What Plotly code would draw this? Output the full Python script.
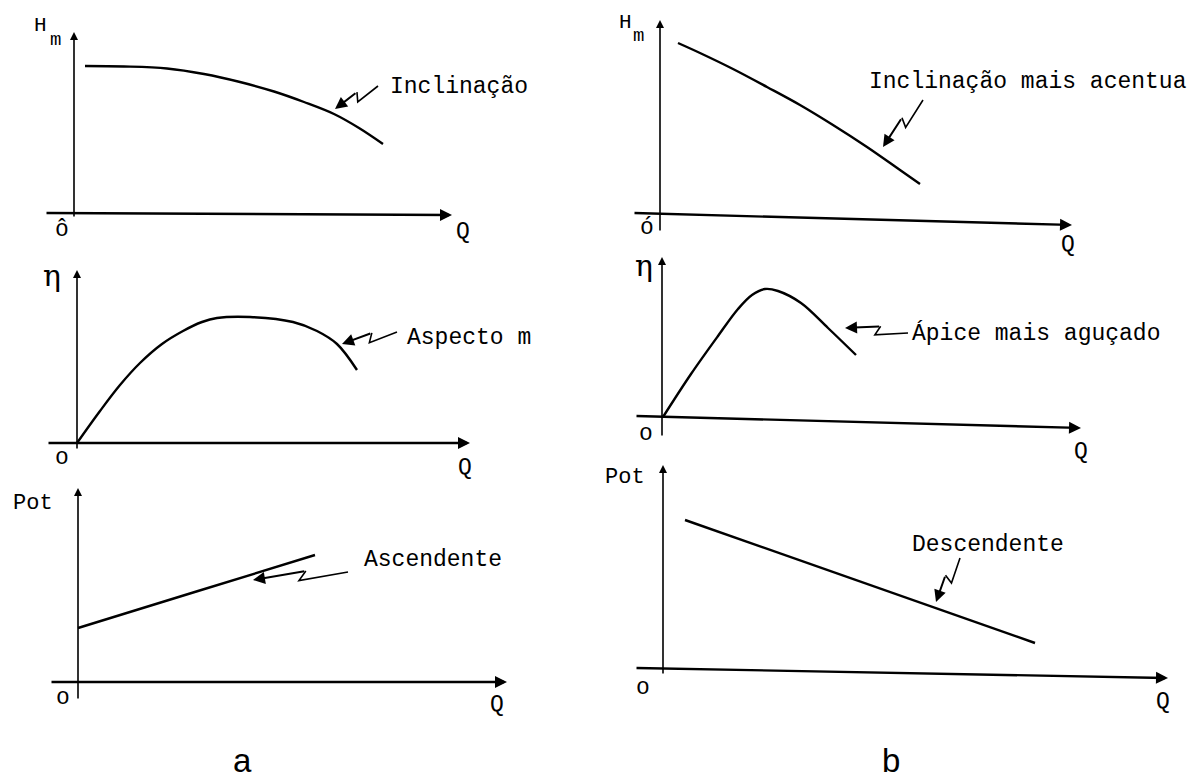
import math
import plotly.graph_objects as go

W, H = 1195, 782
S = 10.0  # px per data unit (same on both axes)

# ---------------- data (arbitrary units) ----------------
# a) top: Hm vs Q
q_a1 = [1.1, 5.0, 9.3, 13.0, 16.6, 20.0, 23.0, 26.0, 28.5, 30.9]
h_a1 = [14.7, 14.65, 14.45, 13.9, 13.1, 12.15, 11.1, 9.9, 8.5, 6.9]
# a) middle: efficiency vs Q
q_a2 = [0.0, 2.3, 4.3, 6.3, 8.5, 10.6, 12.5, 14.0, 17.3, 21.6, 24.0, 26.0, 28.0]
e_a2 = [0.0, 3.2, 5.8, 8.0, 9.9, 11.2, 12.1, 12.5, 12.6, 12.1, 11.2, 9.9, 7.3]
# a) bottom: power vs Q
q_a3 = [0.0, 12.0, 23.7]
p_a3 = [5.4, 9.1, 12.7]
# b) top: Hm vs Q
q_b1 = [1.8, 4.0, 7.3, 10.7, 14.0, 17.3, 20.7, 24.0, 26.0]
h_b1 = [17.1, 16.1, 14.5, 12.7, 10.9, 8.9, 6.7, 4.4, 3.0]
# b) middle: efficiency vs Q
q_b2 = [0.1, 2.9, 5.6, 7.6, 9.0, 10.3, 11.6, 13.9, 16.6, 19.4]
e_b2 = [0.0, 4.3, 8.1, 10.8, 12.2, 12.8, 12.6, 11.4, 8.9, 6.2]
# b) bottom: power vs Q
q_b3 = [2.2, 37.2]
p_b3 = [14.8, 2.5]

curve_labels = ["Inclinação", "Aspecto m", "Ascendente",
                "Inclinação mais acentua", "Ápice mais aguçado", "Descendente"]
y_titles = ["H", "η", "Pot", "H", "η", "Pot"]

series = [(q_a1, h_a1), (q_a2, e_a2), (q_a3, p_a3),
          (q_b1, h_b1), (q_b2, e_b2), (q_b3, p_b3)]

# ---------------- geometry (pixels) ----------------
panels = [
    dict(box=(0, 597, 0, 248), origin=(74, 213)),
    dict(box=(0, 597, 248, 470), origin=(77, 443)),
    dict(box=(0, 597, 470, 782), origin=(78, 682)),
    dict(box=(597, 1195, 0, 248), origin=(660, 214)),
    dict(box=(597, 1195, 248, 470), origin=(662, 417)),
    dict(box=(597, 1195, 470, 782), origin=(663, 668)),
]
yaxis_lines = [((0, -0.5), (0, 18.1)), ((0, -0.7), (0, 17.3)), ((0, -1.8), (0, 19.4)),
               ((0, -1.8), (0, 19.4)), ((0, -2.0), (0, 16.0)), ((0, -0.7), (0, 20.3))]
xaxis_lines = [((-2.9, 0), (37.8, -0.2)), ((-3.0, 0), (39.3, 0)), ((-2.8, 0), (42.9, 0)),
               ((-2.7, 0.1), (41.2, -1.1)), ((-2.7, 0.1), (41.9, -1.1)), ((-2.8, 0), (50.5, -1.0))]
# pointer (tail, tip, label anchor) in data units
pointers = [((30.4, 12.7), (26.1, 10.4), (31.4, 12.6)),
            ((32.0, 11.1), (26.5, 9.9), (32.8, 10.5)),
            ((27.0, 11.0), (17.5, 10.2), (28.4, 12.2)),
            ((26.3, 11.4), (22.3, 6.7), (20.7, 13.2)),
            ((24.6, 8.4), (18.3, 8.9), (24.8, 8.4)),
            ((29.7, 11.0), (27.3, 6.6), (24.7, 12.3))]

MONO = "Liberation Mono, Courier New, monospace"
SERIF = "DejaVu Serif, serif"
SANS = "Liberation Sans, Arial, sans-serif"

fig = go.Figure()
annotations = []
shapes = []
layout = dict()

for i, (pan, (qx, vy)) in enumerate(zip(panels, series)):
    n = i + 1
    xa = "x" if n == 1 else f"x{n}"
    ya = "y" if n == 1 else f"y{n}"
    x0, x1, y0, y1 = pan["box"]
    ox, oy = pan["origin"]
    layout["xaxis" if n == 1 else f"xaxis{n}"] = dict(
        domain=[x0 / W, x1 / W], range=[(x0 - ox) / S, (x1 - ox) / S],
        visible=False, fixedrange=True, anchor=ya)
    layout["yaxis" if n == 1 else f"yaxis{n}"] = dict(
        domain=[1 - y1 / H, 1 - y0 / H], range=[(oy - y1) / S, (oy - y0) / S],
        visible=False, fixedrange=True, anchor=xa)

    fig.add_trace(go.Scatter(x=qx, y=vy, mode="lines", xaxis=xa, yaxis=ya,
                             line=dict(color="black", width=2.4, shape="spline", smoothing=1.0),
                             hoverinfo="skip", showlegend=False, cliponaxis=False))

    for (tail, tip), w in ((yaxis_lines[i], 1.6), (xaxis_lines[i], 2.4)):
        annotations.append(dict(x=tip[0], y=tip[1], ax=tail[0], ay=tail[1],
                                xref=xa, yref=ya, axref=xa, ayref=ya, text="",
                                showarrow=True, arrowhead=2, arrowsize=1.0,
                                arrowwidth=w, arrowcolor="black"))

    # lightning-style pointer: tail -> zig forward -> jog back -> arrow to tip
    tail, tip, lab = pointers[i]
    dx, dy = tip[0] - tail[0], tip[1] - tail[1]
    L = math.hypot(dx, dy)
    nx, ny = -dy / L, dx / L
    off = 0.45
    A = (tail[0] + 0.52 * dx + off * nx, tail[1] + 0.52 * dy + off * ny)
    B = (tail[0] + 0.44 * dx - off * nx, tail[1] + 0.44 * dy - off * ny)
    shapes.append(dict(type="path", xref=xa, yref=ya,
                       path=f"M{tail[0]},{tail[1]} L{A[0]},{A[1]} L{B[0]},{B[1]}",
                       line=dict(color="black", width=1.6)))
    annotations.append(dict(x=tip[0], y=tip[1], ax=B[0], ay=B[1],
                            xref=xa, yref=ya, axref=xa, ayref=ya, text="",
                            showarrow=True, arrowhead=2, arrowsize=1.2,
                            arrowwidth=2.0, arrowcolor="black"))
    annotations.append(dict(x=lab[0], y=lab[1], xref=xa, yref=ya, text=curve_labels[i],
                            showarrow=False, xanchor="left", yanchor="middle",
                            font=dict(family=MONO, size=23, color="black")))


def P(px, py, text, size=23, family=MONO):
    annotations.append(dict(x=px / W, y=1 - py / H, xref="paper", yref="paper",
                            text=text, showarrow=False, xanchor="center", yanchor="middle",
                            font=dict(family=family, size=size, color="black")))


P(40, 25, y_titles[0], 21)
P(55, 40, "m", 19)
P(62, 230, "ô")
P(463, 232, "Q")

P(52, 275, y_titles[1], 30, SERIF)
P(62, 458, "o")
P(465, 468, "Q")

P(33, 503, y_titles[2], 22)
P(63, 698, "o")
P(497, 705, "Q")
P(242, 760, "a", 33, SANS)

P(625, 22, y_titles[3], 21)
P(638, 36, "m", 19)
P(647, 228, "ó")
P(1068, 245, "Q")

P(644, 265, y_titles[4], 30, SERIF)
P(646, 434, "o")
P(1081, 452, "Q")

P(625, 477, y_titles[5], 22)
P(643, 688, "o")
P(1163, 702, "Q")
P(891, 760, "b", 33, SANS)

fig.update_layout(**layout)
fig.update_layout(width=W, height=H, margin=dict(l=0, r=0, t=0, b=0),
                  paper_bgcolor="white", plot_bgcolor="rgba(0,0,0,0)",
                  annotations=annotations, shapes=shapes, showlegend=False)

fig.write_html("out.html", config={"displayModeBar": False},
               post_script="document.body.style.margin='0';document.body.style.overflow='hidden';")
